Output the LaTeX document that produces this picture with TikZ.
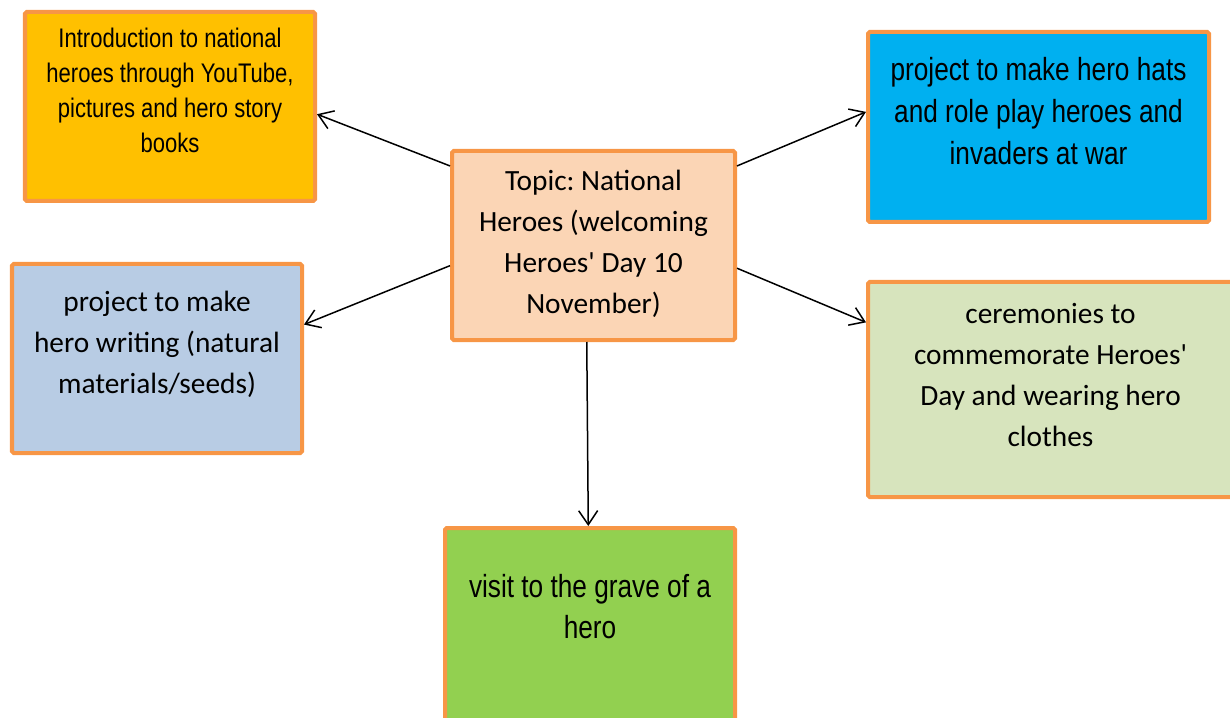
\documentclass[tikz,border=0pt]{standalone}
\usepackage{fontspec}
\setmainfont{Carlito}
\newfontfamily\narrowfont[FakeStretch=0.82]{Liberation Sans}
\usetikzlibrary{positioning,arrows.meta}
\definecolor{boxline}{HTML}{F79646}
\definecolor{introfill}{HTML}{FFC000}
\definecolor{topicfill}{HTML}{FBD5B5}
\definecolor{hatsfill}{HTML}{00B0F0}
\definecolor{writefill}{HTML}{B8CCE4}
\definecolor{ceremfill}{HTML}{D7E4BD}
\definecolor{gravefill}{HTML}{92D050}
\tikzset{
  card/.style={draw=boxline, line width=0.08cm, rounded corners=1pt, inner sep=0pt},
  cardtext/.style={anchor=north, inner sep=0pt, align=center},
  calibri/.style={font=\frenchspacing\fontsize{16.7}{23.3}\selectfont},
  narrow/.style={font=\narrowfont\fontsize{15.3}{19.9}\selectfont},
  narrowbig/.style={font=\narrowfont\fontsize{18.2}{23.9}\selectfont},
  link/.style={-{Straight Barb[length=0.28cm,width=0.38cm]}, line width=0.03cm},
}

\begin{document}
\begin{tikzpicture}
    \useasboundingbox (0,0) rectangle (24.6,14.34);

        \node[card, fill=introfill, minimum width=5.8cm, minimum height=3.78cm] (intro) at (3.4,12.21) {};
        \node[card, fill=topicfill, minimum width=5.66cm, minimum height=3.78cm] (topic) at (11.87,9.43) {};
        \node[card, fill=hatsfill, minimum width=6.82cm, minimum height=3.8cm] (hats) at (20.77,11.8) {};
        \node[card, fill=writefill, minimum width=5.8cm, minimum height=3.78cm] (writing) at (3.14,7.17) {};
        \node[card, fill=ceremfill, minimum width=7.3cm, minimum height=4.3cm] (ceremony) at (21.01,6.55) {};
        \node[card, fill=gravefill, minimum width=5.8cm, minimum height=3.86cm] (grave) at (11.8,1.85) {};

        \node[cardtext, narrow, below=0.249cm of intro.north] (introtxt) {\strut Introduction to national\\heroes through YouTube,\\pictures and hero story\\books};
        \node[cardtext, calibri, below=0.247cm of topic.north] (topictxt) {\strut Topic: National\\Heroes (welcoming\\Heroes\textquotesingle\ Day 10\\November)};
        \node[cardtext, narrowbig, below=0.412cm of hats.north] (hatstxt) {\strut project to make hero hats\\and role play heroes and\\invaders at war};
        \node[cardtext, calibri, below=0.407cm of writing.north] (writingtxt) {\strut project to make\\hero writing (natural\\materials/seeds)};
        \node[cardtext, calibri, below=0.287cm of ceremony.north] (ceremonytxt) {\strut ceremonies to\\commemorate Heroes\textquotesingle\\Day and wearing hero\\clothes};
        \node[cardtext, narrowbig, font=\narrowfont\fontsize{18.2}{23.3}\selectfont, below=0.847cm of grave.north] (gravetxt) {\strut visit to the grave of a\\hero};

        \draw[link] (topic.151.3) -- (intro.357.5);
        \draw[link] (topic.188.9) -- (writing.13.6);
        \draw[link] (topic.29) -- (hats.175.4);
        \draw[link] (topic.351.1) -- (ceremony.160.2);
        \draw[link] (topic.266.7) -- (grave.91.2);

\end{tikzpicture}
\end{document}
